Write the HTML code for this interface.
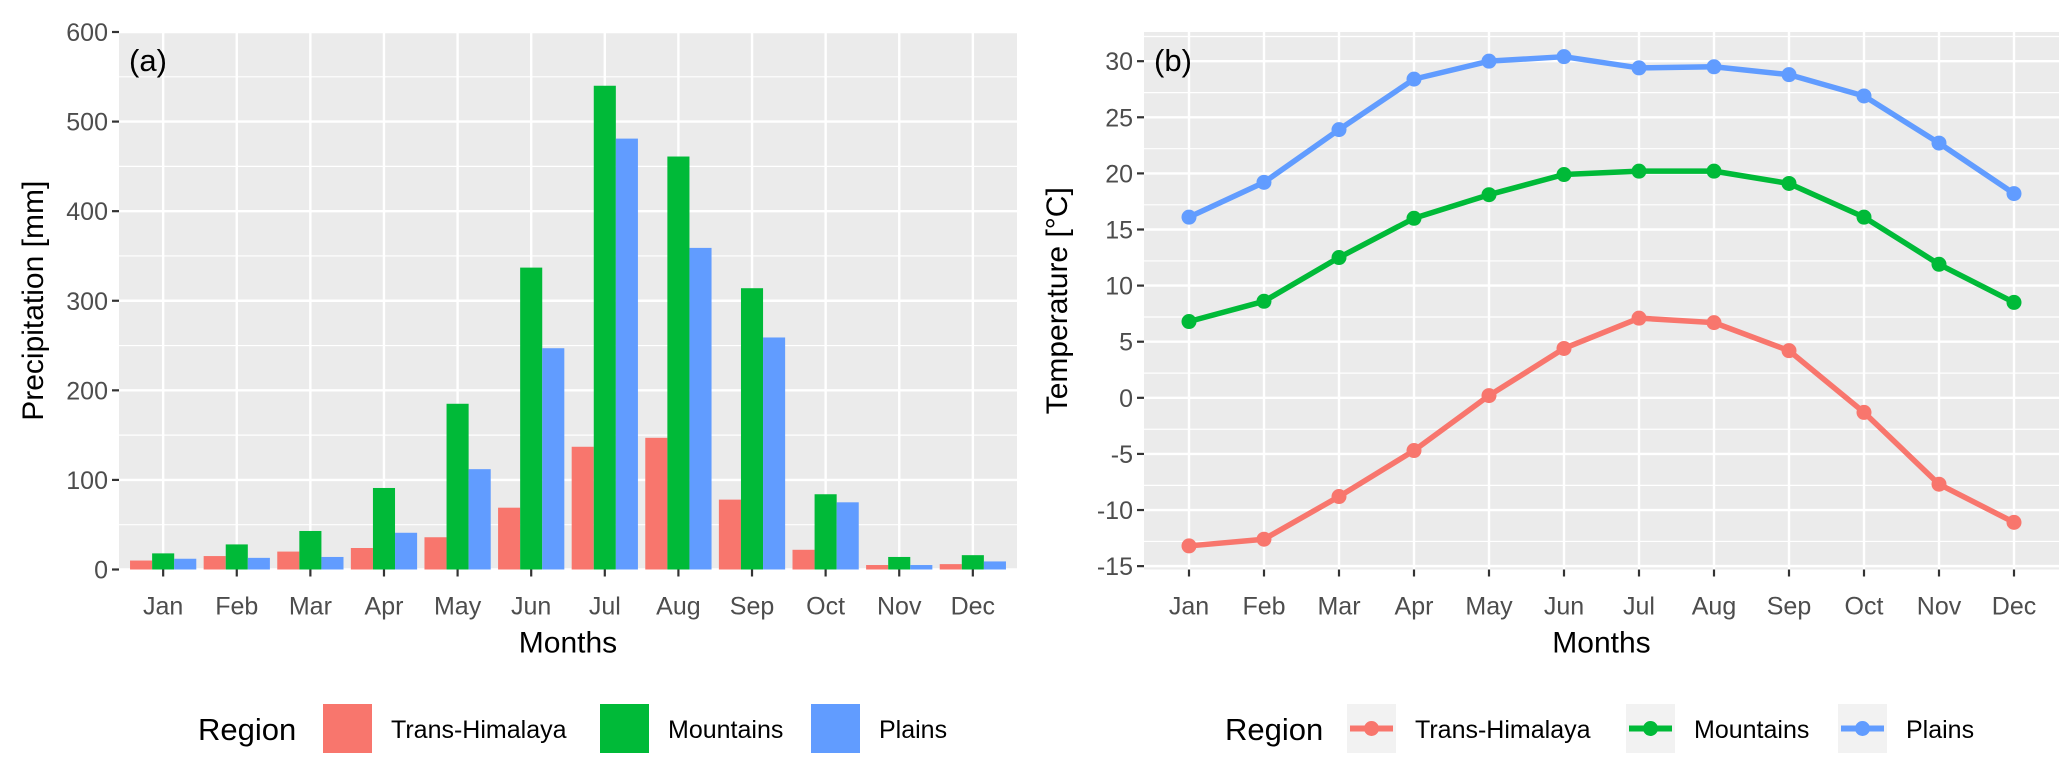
<!DOCTYPE html>
<html><head><meta charset="utf-8"><style>
body{margin:0;background:#fff;}
svg{display:block;font-family:"Liberation Sans",Arial,sans-serif;}
</style></head><body>
<svg id="fig" width="2067" height="774" viewBox="0 0 2067 774" xmlns="http://www.w3.org/2000/svg">
<rect width="2067" height="774" fill="#fff"/>
<g id="pa"></g>
<g id="pb"></g>
</svg>
<script>
const months = ["Jan","Feb","Mar","Apr","May","Jun","Jul","Aug","Sep","Oct","Nov","Dec"];
const regions = ["Trans-Himalaya","Mountains","Plains"];
const colors = ["#F8766D","#00BA38","#619CFF"];
const precipTH = [10,15,20,24,36,69,137,147,78,22,5,6];
const precipM = [18,28,43,91,185,337,540,461,314,84,14,16];
const precipP = [12,13,14,41,112,247,481,359,259,75,5,9];
const precipTicks = [0,100,200,300,400,500,600];
const tempTH = [-13.2,-12.6,-8.8,-4.7,0.2,4.4,7.1,6.7,4.2,-1.3,-7.7,-11.1];
const tempM = [6.8,8.6,12.5,16.0,18.1,19.9,20.2,20.2,19.1,16.1,11.9,8.5];
const tempP = [16.1,19.2,23.9,28.4,30.0,30.4,29.4,29.5,28.8,26.9,22.7,18.2];
const tempTicks = [-15,-10,-5,0,5,10,15,20,25,30];

const NS="http://www.w3.org/2000/svg";
function mk(parent,tag,attrs,text){const e=document.createElementNS(NS,tag);for(const k in attrs)e.setAttribute(k,attrs[k]);if(text!==undefined)e.textContent=text;parent.appendChild(e);return e;}

function panel(g,cfg){
  const {L,R,T,B,ymin,ymax,ticks,minorStep}=cfg;
  const n=months.length, step=(R-L)/(n-1+1.2);
  const x=i=>L+0.6*step+i*step;
  const y=v=>B-(v-ymin)/(ymax-ymin)*(B-T);
  const bg=mk(g,'rect',{x:L,y:T,width:R-L,height:B-T,fill:'#EBEBEB'});
  
  
  for(let v=ymin+minorStep/2; v<ymax+1e-9; v+=minorStep){ if(ticks.some(t=>Math.abs(t-v)<1e-9)) continue;
    const ln=mk(g,'line',{x1:L,x2:R,y1:y(v),y2:y(v),stroke:'#fff','stroke-width':1.2});
    
    }
  ticks.forEach(t=>{
    const ln=mk(g,'line',{x1:L,x2:R,y1:y(t),y2:y(t),stroke:'#fff','stroke-width':2.4});
    
    
    const tk=mk(g,'line',{x1:L-7,x2:L,y1:y(t),y2:y(t),stroke:'#333','stroke-width':2.2});
    
    
    const tx=mk(g,'text',{x:L-11,y:y(t)+9,'text-anchor':'end','font-size':25,fill:'#4D4D4D'},String(t));
    
    
  });
  months.forEach((m,i)=>{
    const ln=mk(g,'line',{x1:x(i),x2:x(i),y1:T,y2:B,stroke:'#fff','stroke-width':2.4});
    
    
    const tk=mk(g,'line',{x1:x(i),x2:x(i),y1:B,y2:B+7,stroke:'#333','stroke-width':2.2});
    
    
    const tx=mk(g,'text',{x:x(i),y:B+45,'text-anchor':'middle','font-size':25,fill:'#4D4D4D'},m);
    
    
  });
  const xt=mk(g,'text',{x:(L+R)/2,y:B+83,'text-anchor':'middle','font-size':30,fill:'#000'},'Months');
  
  
  const cy=(T+B)/2;
  const yt=mk(g,'text',{x:0,y:0,transform:`translate(${cfg.ytX},${cy}) rotate(-90)`,'text-anchor':'middle','font-size':30,fill:'#000'},cfg.ytitle);
  
  
  const lb=mk(g,'text',{x:L+10,y:T+39,'font-size':31,fill:'#000'},cfg.label);
  
  
  return {x,y,step};
}

const ga=document.getElementById('pa');
const A=panel(ga,{L:119,R:1017,T:32,B:569.5,ymin:0,ymax:600,ticks:precipTicks,minorStep:100,ytX:43,ytitle:'Precipitation [mm]',label:'(a)'});
const pSeries=[precipTH,precipM,precipP];
const bw=A.step*0.9/3;
pSeries.forEach((s,k)=>{
  s.forEach((v,i)=>{
    const x0=A.x(i)-A.step*0.45+k*bw;
    const r=mk(ga,'rect',{x:x0,y:A.y(v),width:bw,height:A.y(0)-A.y(v),fill:colors[k]});
    
    
  });
});

const gb=document.getElementById('pb');
const Bp=panel(gb,{L:1144,R:2059,T:32,B:569.5,ymin:-15.3,ymax:32.6,ticks:tempTicks,minorStep:5,ytX:1067,ytitle:'Temperature [°C]',label:'(b)'});
const tSeries=[tempTH,tempM,tempP];
tSeries.forEach((s,k)=>{
  const pts=s.map((v,i)=>Bp.x(i)+','+Bp.y(v)).join(' ');
  const pl=mk(gb,'polyline',{points:pts,fill:'none',stroke:colors[k],'stroke-width':5.5,'stroke-linejoin':'round'});
  
  
  s.forEach((v,i)=>{
    const c=mk(gb,'circle',{cx:Bp.x(i),cy:Bp.y(v),r:7.5,fill:colors[k]});
    
    
  });
});

function legend(g,cfg){
  const lt=mk(g,'text',{x:cfg.titleX,y:740,'font-size':31,fill:'#000'},'Region');
  
  
  regions.forEach((r,k)=>{
    const kx=cfg.keys[k];
    if(cfg.type==='bar'){
      const rc=mk(g,'rect',{x:kx,y:704,width:49,height:49,fill:colors[k]});
      
      
    } else {
      const rc=mk(g,'rect',{x:kx,y:704,width:49,height:49,fill:'#F2F2F2'});
      
      
      const ln=mk(g,'line',{x1:kx+3,x2:kx+46,y1:728.5,y2:728.5,stroke:colors[k],'stroke-width':6});
      
      
      const c=mk(g,'circle',{cx:kx+24.5,cy:728.5,r:7.5,fill:colors[k]});
      
      
    }
    const t=mk(g,'text',{x:kx+68,y:738,'font-size':25,fill:'#000'},r);
    
    
  });
}
legend(ga,{type:'bar',titleX:198,keys:[323,600,811]});
legend(gb,{type:'line',titleX:1225,keys:[1347,1626,1838]});
</script>
</body></html>
